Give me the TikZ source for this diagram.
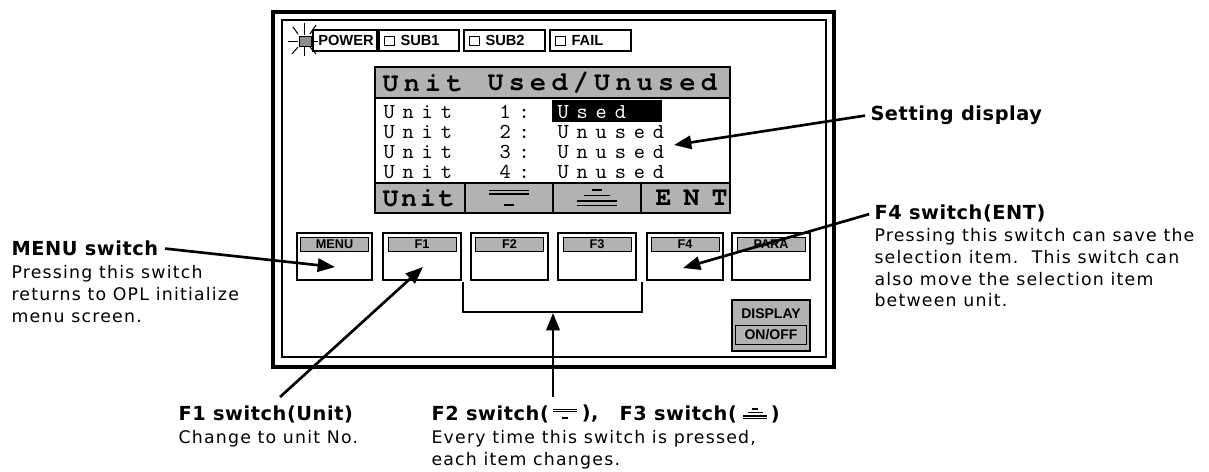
\documentclass[tikz,border=0pt]{standalone}
\usepackage{fontspec}
\setmainfont{Liberation Sans}
\newfontfamily\notefont[LetterSpace=7]{DejaVu Sans}
\newfontfamily\notebold[LetterSpace=3]{DejaVu Sans}
\newfontfamily\lcdfont[LetterSpace=37]{lmmono10-regular.otf}
\newfontfamily\lcdhead[LetterSpace=20]{texgyrecursor-bold.otf}
\newfontfamily\lcdfoot[LetterSpace=10]{texgyrecursor-bold.otf}
\newfontfamily\lcdwide[LetterSpace=45]{texgyrecursor-bold.otf}
\usetikzlibrary{arrows.meta,positioning,calc}

\tikzset{every picture/.style={line width=0.75pt}}
\tikzset{
  notetitle/.style={inner sep=0.75pt,font=\fontsize{14.5}{17}\notebold\bfseries},
  notebody/.style={inner sep=0.75pt,align=left,font=\fontsize{13}{16.25}\notefont},
  callout/.style={line width=2pt,-{Triangle[length=13pt,width=10pt]}},
  stipple/.style={fill=black!30},
  lamptext/.style={inner sep=0.75pt,font=\fontsize{11}{12}\selectfont\bfseries},
  lcdrow/.style={inner sep=0pt,anchor=base west,font=\fontsize{16}{16}\lcdfont},
  lcdtitle/.style={inner sep=0pt,anchor=west,font=\fontsize{20}{20}\lcdhead},
  lcdkey/.style={inner sep=0pt,anchor=west,font=\fontsize{20}{20}\lcdfoot},
  fkeytag/.style={draw,line width=0.6pt,fill=black!30,minimum width=51pt,minimum height=10.5pt,inner sep=0pt,font=\fontsize{9.5}{10}\selectfont\bfseries},
  pics/downkey/.style={code={
    \draw[line width=#1/2] (-20,8) -- (20,8);
    \draw[line width=#1] (-20,4) -- (20,4);
    \draw[line width=#1] (-5,-7) -- (5,-7);
  }},
  pics/upkey/.style={code={
    \draw[line width=#1] (-5,8) -- (5,8);
    \draw[line width=#1/2] (-13,3) -- (13,3);
    \draw[line width=#1] (-20,-3) -- (20,-3);
    \draw[line width=#1/2] (-20,-7) -- (20,-7);
  }},
}

\begin{document}
\begin{tikzpicture}[x=0.75pt,y=0.75pt,yscale=-1,xscale=1]
        \useasboundingbox (0,0) rectangle (1209,471);

        %Shape: Rectangle [panel frame]
        \draw [line width=2.4pt]  (273,12) rectangle (834,367) ;
        \draw [line width=1.1pt]  (282,20) rectangle (826,357) ;

        %Shape: Lamp icon
        \draw [fill=black!45]  (299,36) rectangle (311,46) ;
        \draw    (288,41) -- (298,41) ;
        \draw    (311,41) -- (318,41) ;
        \draw    (304,23) -- (304,35) ;
        \draw    (304,47) -- (304,56) ;
        \draw    (293,27) -- (298,34) ;
        \draw    (310,34) -- (316,25) ;
        \draw    (298,47) -- (292,54) ;
        \draw    (310,47) -- (316,54) ;
        %Shape: Rectangle [lamps]
        \draw [line width=1.1pt]  (313,30) rectangle (377,51) ;
        \draw [line width=1.1pt]  (379,30) rectangle (459,51) ;
        \draw [line width=1.1pt]  (464,30) rectangle (545,51) ;
        \draw [line width=1.1pt]  (550,30) rectangle (631,51) ;
        \draw    (384,36) rectangle (394,45) ;
        \draw    (469,36) rectangle (479,45) ;
        \draw    (555,36) rectangle (565,45) ;

        % Text Node
        \draw (346,40.5) node (lampPower) [lamptext] {POWER};
        % Text Node
        \draw (399,40.5) node (lampSub1) [anchor=west][lamptext] {SUB1};
        % Text Node
        \draw (484,40.5) node (lampSub2) [anchor=west][lamptext] {SUB2};
        % Text Node
        \draw (570,40.5) node (lampFail) [anchor=west][lamptext] {FAIL};

        %Shape: LCD screen
        \fill [stipple]  (375,67) rectangle (730,98) ;
        \fill [stipple]  (375,183) rectangle (730,213) ;
        \fill    (552,100) rectangle (662,122) ;
        \draw [line width=1.1pt]  (375,67) rectangle (730,213) ;
        \draw [line width=1.1pt]  (375,98) -- (730,98) ;
        \draw [line width=1.1pt]  (375,183) -- (730,183) ;
        \draw [line width=1.1pt]  (465,183) -- (465,213) ;
        \draw [line width=1.1pt]  (553,183) -- (553,213) ;
        \draw [line width=1.1pt]  (641,183) -- (641,213) ;

        % Text Node
        \draw (382,83) node (lcdHeadA) [lcdtitle] {Unit};
        % Text Node
        \draw (487,83) node (lcdHeadB) [lcdtitle] {Used/Unused};

        % Text Node
        \draw (383,118.5) node (rowUnitA) [lcdrow] {Unit};
        \draw (499,118.5) node (rowNumA) [lcdrow] {1:};
        \draw (557,118.5) node (rowValA) [lcdrow,text=white] {Used};
        % Text Node
        \draw (383,138.5) node (rowUnitB) [lcdrow] {Unit};
        \draw (499,138.5) node (rowNumB) [lcdrow] {2:};
        \draw (557,138.5) node (rowValB) [lcdrow] {Unused};
        % Text Node
        \draw (383,158.5) node (rowUnitC) [lcdrow] {Unit};
        \draw (499,158.5) node (rowNumC) [lcdrow] {3:};
        \draw (557,158.5) node (rowValC) [lcdrow] {Unused};
        % Text Node
        \draw (383,178.5) node (rowUnitD) [lcdrow] {Unit};
        \draw (499,178.5) node (rowNumD) [lcdrow] {4:};
        \draw (557,178.5) node (rowValD) [lcdrow] {Unused};

        % Text Node
        \draw (382,198) node (keyUnit) [lcdkey] {Unit};
        \pic at (509,198) {downkey=1.5pt};
        \pic at (597,198) {upkey=1.5pt};
        % Text Node
        \draw (655,198) node (keyEnt) [anchor=west,inner sep=0pt,font=\fontsize{20}{20}\lcdwide] {ENT};

        %Shape: Rectangle [switches]
        \draw [line width=1.1pt]  (297,233) rectangle (372,280) ;
        \draw [line width=1.1pt]  (383,233) rectangle (461,280) ;
        \draw [line width=1.1pt]  (471,233) rectangle (548,280) ;
        \draw [line width=1.1pt]  (558,233) rectangle (636,280) ;
        \draw [line width=1.1pt]  (647,233) rectangle (723,280) ;
        \draw [line width=1.1pt]  (732,233) rectangle (810,280) ;
        % Text Node
        \draw (334.5,244) node (tagMenu) [fkeytag] {MENU};
        \draw (422,244) node (tagFa) [fkeytag] {F1};
        \draw (509.5,244) node (tagFb) [fkeytag] {F2};
        \draw (597,244) node (tagFc) [fkeytag] {F3};
        \draw (685,244) node (tagFd) [fkeytag] {F4};
        \draw (771,244) node (tagPara) [fkeytag] {PARA};

        %Shape: Rectangle [display on/off]
        \draw [line width=1.1pt,stipple]  (732,300) rectangle (810,351) ;
        \draw (771,314) node (dispTop) [inner sep=0pt,font=\fontsize{10.5}{11}\selectfont\bfseries] {DISPLAY};
        \draw (771,335) node (dispOn) [draw,line width=0.9pt,minimum width=53pt,minimum height=14pt,inner sep=0pt,font=\fontsize{10.5}{11}\selectfont\bfseries] {ON/OFF};

        %Straight Lines [bracket under F2, F3]
        \draw [line width=1.4pt]  (463,282) -- (463,312) -- (642,312) -- (642,282) ;

        % Text Node
        \draw (869,115) node (setT) [anchor=west][notetitle] {Setting display};
        % Text Node
        \draw (873,213) node (f4T) [anchor=west][notetitle] {F4 switch(ENT)};
        \draw (873,227) node (f4B) [anchor=north west][notebody] {Pressing this switch can save the\\selection item.\ \ This switch can\\also move the selection item\\between unit.};
        % Text Node
        \draw (10,248) node (menuT) [anchor=west][notetitle] {MENU switch};
        \draw (10,264) node (menuB) [anchor=north west][notebody] {Pressing this switch\\returns to OPL initialize\\menu screen.};
        % Text Node
        \draw (177,414) node (f1T) [anchor=west][notetitle] {F1 switch(Unit)};
        \draw (177,429) node (f1B) [anchor=north west][notebody] {Change to unit No.};
        % Text Node
        \draw (430,414) node (f2T) [anchor=west][notetitle] {F2 switch(};
        \pic [scale=0.6] at ($(f2T.east)+(15,0)$) {downkey=1.2pt};
        \draw ($(f2T.east)+(30,0)$) node (f2Tb) [anchor=west][notetitle] {),};
        \draw ($(f2Tb.east)+(18,0)$) node (f3T) [anchor=west][notetitle] {F3 switch(};
        \pic [scale=0.6] at ($(f3T.east)+(17,0)$) {upkey=1.2pt};
        \draw ($(f3T.east)+(31,0)$) node (f3Tb) [anchor=west][notetitle] {)};
        \draw (430,429) node (f2B) [anchor=north west][notebody] {Every time this switch is pressed,\\each item changes.};

        % Callouts
        \coordinate (tipSet) at (674,145);
        \coordinate (tipF4) at (683,268);
        \coordinate (tipMenu) at (335,267);
        \coordinate (tailF1) at (280,397);
        \coordinate (tipF1) at (423,267);
        \coordinate (tailF2) at (553,397);
        \coordinate (tipF2) at (553,313);
        \draw [callout,shorten <=3pt]  (setT.west) -- (tipSet) ;
        \draw [callout,shorten <=3pt]  (f4T.west) -- (tipF4) ;
        \draw [callout,shorten <=4pt]  (menuT.east) -- (tipMenu) ;
        \draw [callout]  (tailF1) -- (tipF1) ;
        \draw [callout]  (tailF2) -- (tipF2) ;

\end{tikzpicture}
\end{document}
